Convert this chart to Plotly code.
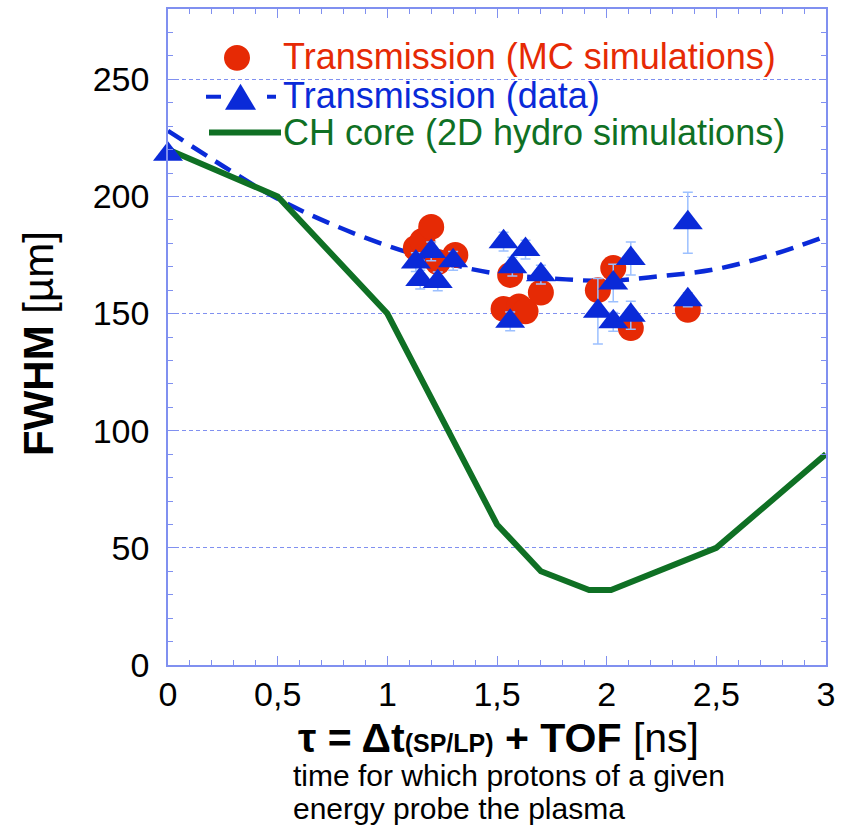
import plotly.graph_objects as go

# CH core width from 2D hydro simulations
hydro_t = [0.0, 0.5, 1.0, 1.5, 1.7, 1.92, 2.02, 2.5, 3.0]
hydro_fwhm = [220, 200, 150, 60, 40, 32, 32, 50, 90]

# trend through the measured transmission widths
trend_t = [0.0, 0.25, 0.5, 0.75, 1.0, 1.25, 1.5, 1.75, 2.0, 2.25, 2.5, 2.75, 3.0]
trend_fwhm = [228, 213, 199, 188, 179, 172, 167, 165, 164, 166, 169, 175, 183]

# transmission, MC simulations
mc_t = [1.13, 1.16, 1.20, 1.23, 1.31, 1.53, 1.56, 1.60, 1.63, 1.70, 1.96, 2.03, 2.11, 2.37]
mc_fwhm = [178, 181, 187, 172, 175, 152, 166.5, 153, 151, 159, 160, 169.4, 143.8, 151.6]

# transmission, measured data with error bars
data_t = [0.0, 1.13, 1.15, 1.20, 1.23, 1.30, 1.53, 1.57, 1.63, 1.70, 1.56,
          1.96, 2.03, 2.03, 2.11, 2.11, 2.37, 2.37]
data_fwhm = [218, 172, 164.5, 176.5, 163.7, 172.5, 180.7, 170, 177.3, 166.6, 146.7,
             151, 163, 146.5, 173.5, 149.3, 188.8, 155.9]
data_err = [0, 4, 4, 4, 4, 4, 4, 4, 4, 4, 4,
            14, 8, 4, 7, 6, 13, 3]

x_ticks = [0, 0.5, 1, 1.5, 2, 2.5, 3]
x_labels = ["0", "0,5", "1", "1,5", "2", "2,5", "3"]
y_ticks = [0, 50, 100, 150, 200, 250]

RED = "#e62a05"
BLUE = "#0a2ad8"
GREEN = "#0f7024"
FRAME = "#8090f0"
ERR = "#9cc0ff"
FONT = "Liberation Sans, Arial, sans-serif"

fig = go.Figure()

fig.add_trace(go.Scatter(
    x=trend_t, y=trend_fwhm, mode="lines", line_shape="spline",
    line=dict(color=BLUE, width=4.5, dash="18px,10px"), showlegend=False))

fig.add_trace(go.Scatter(
    x=hydro_t, y=hydro_fwhm, mode="lines",
    line=dict(color=GREEN, width=6), showlegend=False))

fig.add_trace(go.Scatter(
    x=mc_t, y=mc_fwhm, mode="markers", cliponaxis=False,
    marker=dict(symbol="circle", size=26, color=RED), showlegend=False))

fig.add_trace(go.Scatter(
    x=data_t, y=data_fwhm, mode="markers", cliponaxis=False,
    marker=dict(symbol="triangle-up", size=26, color=BLUE),
    error_y=dict(type="data", array=data_err, color=ERR, thickness=1.5, width=5),
    showlegend=False))

# legend drawn by hand in paper pixels
W, H = 847, 830
L, R, T, B = 168, 21, 7, 165
pw, ph = W - L - R, H - T - B


def px(x):
    return (x - L) / pw


def py(y):
    return 1 - (y - T) / ph


shapes = []
# red dot
shapes.append(dict(type="circle", xref="paper", yref="paper",
                   x0=px(224), x1=px(250), y0=py(69), y1=py(43),
                   fillcolor=RED, line=dict(width=0)))
# dashed line with triangle
shapes.append(dict(type="line", xref="paper", yref="paper",
                   x0=px(206), x1=px(221), y0=py(95), y1=py(95),
                   line=dict(color=BLUE, width=4)))
shapes.append(dict(type="line", xref="paper", yref="paper",
                   x0=px(267), x1=px(276), y0=py(95), y1=py(95),
                   line=dict(color=BLUE, width=4)))
tx0, tx1, ty0, ty1 = px(225), px(256), py(108), py(82)
shapes.append(dict(type="path", xref="paper", yref="paper",
                   path=f"M {tx0} {ty0} L {tx1} {ty0} L {(tx0 + tx1) / 2} {ty1} Z",
                   fillcolor=BLUE, line=dict(width=0)))
# green line
shapes.append(dict(type="line", xref="paper", yref="paper",
                   x0=px(209), x1=px(281), y0=py(131), y1=py(131),
                   line=dict(color=GREEN, width=6)))

annotations = []
for txt, col, yy in [("Transmission (MC simulations)", RED, 55),
                     ("Transmission (data)", BLUE, 94),
                     ("CH core (2D hydro simulations)", GREEN, 131)]:
    annotations.append(dict(text=txt, xref="paper", yref="paper",
                            x=px(281), y=py(yy), xanchor="left", yanchor="middle",
                            showarrow=False, font=dict(family=FONT, size=36, color=col)))

# axis titles
annotations.append(dict(
    text="<b>τ = Δt<span style=\"font-size:25px\">(SP/LP)</span> + TOF</b> [ns]",
    xref="paper", yref="paper",
    x=px(498), y=py(738), xanchor="center", yanchor="middle", showarrow=False,
    font=dict(family=FONT, size=41, color="black")))
for line, yy in [("time for which protons of a given", 776),
                 ("energy probe the plasma", 809)]:
    annotations.append(dict(
        text=line, xref="paper", yref="paper", x=px(291), y=py(yy),
        xanchor="left", yanchor="middle", showarrow=False,
        font=dict(family=FONT, size=30, color="black")))
annotations.append(dict(
    text="<b>FWHM</b> [µm]", xref="paper", yref="paper", textangle=-90,
    x=px(39), y=py(343), xanchor="center", yanchor="middle", showarrow=False,
    font=dict(family=FONT, size=42, color="black")))

fig.update_layout(
    width=W, height=H,
    margin=dict(l=L, r=R, t=T, b=B),
    paper_bgcolor="white", plot_bgcolor="white",
    separators=",.",
    font=dict(family=FONT, color="black"),
    shapes=shapes, annotations=annotations,
    showlegend=False,
)

fig.update_xaxes(
    range=[0, 3], tickvals=x_ticks, ticktext=x_labels,
    showgrid=False, zeroline=False,
    showline=True, linecolor=FRAME, linewidth=1.5, mirror="allticks",
    ticks="inside", ticklen=9, tickcolor=FRAME, tickwidth=1,
    minor=dict(dtick=0.1, ticks="inside", ticklen=5, tickcolor=FRAME, showgrid=False),
    tickfont=dict(family=FONT, size=34, color="black"),
    ticklabelstandoff=-2,
)
fig.update_yaxes(
    range=[0, 280], tickvals=y_ticks,
    showgrid=True, gridcolor=FRAME, gridwidth=1, griddash="4px,3px",
    zeroline=False,
    showline=True, linecolor=FRAME, linewidth=1.5, mirror="allticks",
    ticks="inside", ticklen=7, tickcolor=FRAME, tickwidth=1,
    minor=dict(dtick=10, ticks="inside", ticklen=5, tickcolor=FRAME, showgrid=False),
    tickfont=dict(family=FONT, size=34, color="black"),
    ticklabelstandoff=10,
)

fig.write_html("out.html")
